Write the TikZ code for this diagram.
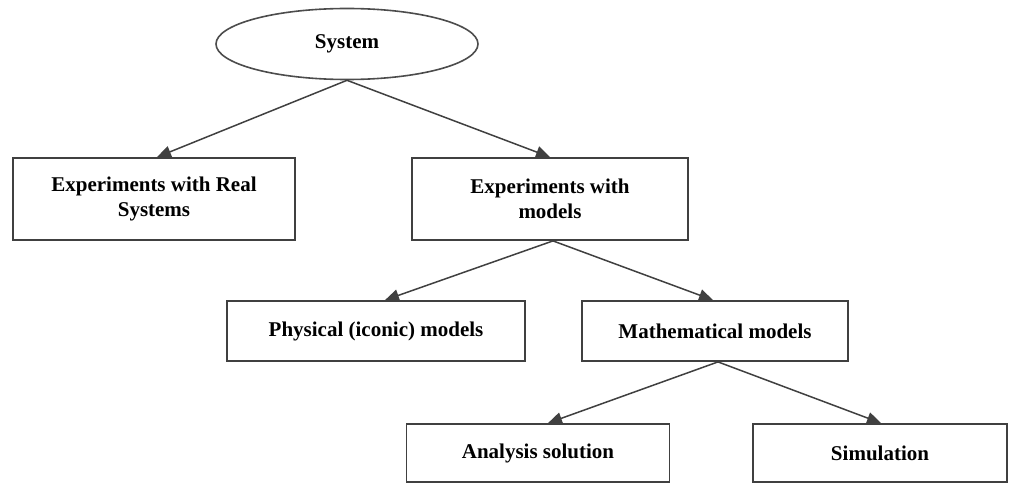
\documentclass[tikz,border=0pt]{standalone}
\usepackage{fontspec}
\setmainfont{Liberation Serif}
\usetikzlibrary{shapes.geometric, arrows.meta}

\tikzset{
  box/.style={draw=black!75, line width=1.8pt, rectangle, align=center,
              font=\bfseries\fontsize{21}{25}\selectfont},
  oval/.style={draw=black!70, line width=1.6pt, ellipse,
               minimum width=262pt, minimum height=71pt,
               font=\bfseries\fontsize{21}{25}\selectfont},
  flow/.style={draw=black!75, line width=1.5pt,
               -{Triangle[length=14pt, width=12pt]}},
}

\begin{document}
\begin{tikzpicture}[x=1pt, y=-1pt]
\useasboundingbox (0,0) rectangle (1010,484);
        % Draw the nodes
        \node[oval] at (347, 44) (sys) {System};
        \node[box, minimum width=282pt, minimum height=82pt] at (154, 199) (real)  {Experiments with Real\\Systems};
        \node[box, minimum width=276pt, minimum height=82pt] at (550, 199) (model) {Experiments with\\models};
        \node[box, minimum width=298pt, minimum height=60pt] at (376, 331) (phys)  {Physical (iconic) models};
        \node[box, minimum width=266pt, minimum height=60pt] at (715, 331) (math)  {Mathematical models};
        \node[box, minimum width=263pt, minimum height=58pt] at (538, 453) (anal)  {Analysis solution};
        \node[box, minimum width=254pt, minimum height=58pt] at (880, 453) (sim)   {Simulation};
        % Connect the nodes with arrows
        \path
            (sys.south)               edge[flow] ([xshift=3pt]real.north)
            (sys.south)               edge[flow] (model.north)
            ([xshift=3pt]model.south) edge[flow] ([xshift=9pt]phys.north)
            ([xshift=3pt]model.south) edge[flow] ([xshift=-2pt]math.north)
            ([xshift=3pt]math.south)  edge[flow] ([xshift=10pt]anal.north)
            ([xshift=3pt]math.south)  edge[flow] ([xshift=1pt]sim.north);
\end{tikzpicture}
\end{document}
